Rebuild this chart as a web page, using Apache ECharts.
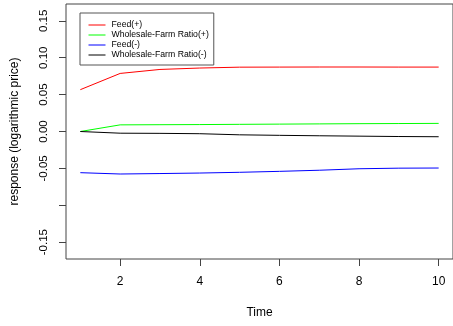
<!DOCTYPE html>
<html>
<head>
<meta charset="utf-8">
<script src="https://cdn.jsdelivr.net/npm/echarts@6/dist/echarts.min.js"></script>
<style>
  html, body { margin: 0; padding: 0; background: #fff; }
  #chart { width: 453px; height: 326px; }
</style>
</head>
<body>
<div id="chart"></div>
<script>
// Impulse responses over ten periods
const time = [1, 2, 3, 4, 5, 6, 7, 8, 9, 10];
const feedPos = [0.0567, 0.0787, 0.0841, 0.0860, 0.0872, 0.0873, 0.0874, 0.0874, 0.0873, 0.0873];
const ratioPos = [0.0000, 0.0090, 0.0092, 0.0094, 0.0097, 0.0100, 0.0103, 0.0106, 0.0108, 0.0110];
const feedNeg = [-0.0558, -0.0576, -0.0570, -0.0563, -0.0553, -0.0540, -0.0525, -0.0505, -0.0497, -0.0495];
const ratioNeg = [0.0000, -0.0023, -0.0025, -0.0030, -0.0045, -0.0052, -0.0058, -0.0063, -0.0068, -0.0071];

const seriesNames = ['Feed(+)', 'Wholesale-Farm Ratio(+)', 'Feed(-)', 'Wholesale-Farm Ratio(-)'];
const seriesColors = ['#ff0000', '#00ff00', '#0000ff', '#000000'];
const seriesData = [feedPos, ratioPos, feedNeg, ratioNeg];

const xTicks = [2, 4, 6, 8, 10];
const yTicks = [-0.15, -0.10, -0.05, 0.00, 0.05, 0.10, 0.15];
const yLabelled = [-0.15, -0.05, 0.00, 0.05, 0.10, 0.15];

const FONT = 'Liberation Sans, Arial, Helvetica, sans-serif';

const chart = echarts.init(document.getElementById('chart'), null, { renderer: 'canvas' });

chart.setOption({
  animation: false,
  backgroundColor: '#ffffff',
  textStyle: { fontFamily: FONT },
  grid: {
    left: 66, top: 4, width: 388, height: 255,
    show: true, borderColor: '#444', borderWidth: 1, backgroundColor: 'transparent'
  },
  legend: {
    orient: 'vertical',
    left: 80, top: 13,
    padding: [7, 5, 5, 8],
    borderColor: '#555', borderWidth: 1,
    backgroundColor: '#fff',
    itemWidth: 17, itemHeight: 10, itemGap: 0,
    itemStyle: { opacity: 0 },
    lineStyle: { width: 1 },
    data: seriesNames,
    textStyle: { fontSize: 8.7, color: '#000', fontFamily: FONT, lineHeight: 10, padding: [0, 0, 0, 1] }
  },
  xAxis: {
    type: 'value',
    min: 0.64, max: 10.36,
    name: 'Time', nameLocation: 'middle', nameGap: 48,
    nameTextStyle: { fontSize: 12, color: '#000', fontFamily: FONT },
    axisLine: { show: false, onZero: false },
    splitLine: { show: false },
    axisTick: { show: true, inside: false, length: 7, customValues: xTicks, lineStyle: { color: '#444' } },
    axisLabel: { customValues: xTicks, fontSize: 12, color: '#000', margin: 17, fontFamily: FONT }
  },
  yAxis: {
    type: 'value',
    min: -0.1728, max: 0.1728,
    name: 'response (logarithmic price)', nameLocation: 'middle', nameGap: 45,
    nameTextStyle: { fontSize: 12, color: '#000', fontFamily: FONT },
    axisLine: { show: false, onZero: false },
    splitLine: { show: false },
    axisTick: { show: true, inside: false, length: 7, customValues: yTicks, lineStyle: { color: '#444' } },
    axisLabel: {
      customValues: yLabelled, rotate: 90, fontSize: 11.5, color: '#000', margin: 16, fontFamily: FONT,
      formatter: v => v.toFixed(2)
    }
  },
  series: seriesData.map((d, i) => ({
    name: seriesNames[i],
    type: 'line',
    data: time.map((t, k) => [t, d[k]]),
    symbol: 'none',
    lineStyle: { color: seriesColors[i], width: 1 },
    itemStyle: { color: seriesColors[i] }
  }))
});
</script>
</body>
</html>
